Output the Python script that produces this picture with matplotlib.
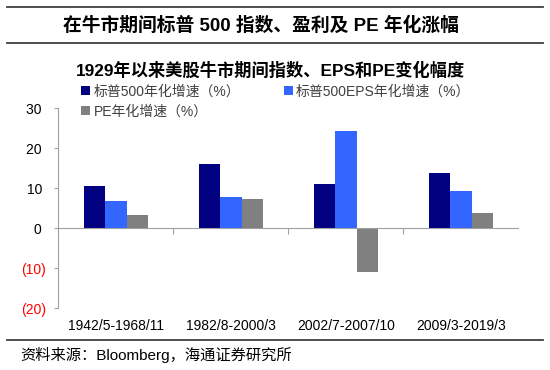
import numpy as np
import matplotlib
matplotlib.use('Agg')
import matplotlib.pyplot as plt
from matplotlib.lines import Line2D

plt.rcParams['font.family'] = ['Liberation Sans', 'Noto Sans CJK SC', 'DejaVu Sans']

categories = ['1942/5-1968/11', '1982/8-2000/3', '2002/7-2007/10', '2009/3-2019/3']
sp500_growth = [10.5, 16.0, 11.0, 13.8]
eps_growth = [6.9, 7.7, 24.3, 9.2]
pe_growth = [3.3, 7.4, -11.0, 3.8]
series_names = ['标普500年化增速（%）', '标普500EPS年化增速（%）', 'PE年化增速（%）']
colors = ['#000080', '#3366FF', '#808080']

yticks = [-20, -10, 0, 10, 20, 30]
ytick_labels = ['(20)', '(10)', '0 ', '10 ', '20 ', '30 ']

fig = plt.figure(figsize=(5.5, 3.7), dpi=100)
ax = fig.add_axes([0.106, 0.1668, 0.8364, 0.5405])

x = np.arange(len(categories))
w = 0.187
bars = []
for i, (vals, c) in enumerate(zip([sp500_growth, eps_growth, pe_growth], colors)):
    b = ax.bar(x + (i - 1) * w, vals, width=w, color=c, label=series_names[i], zorder=2)
    bars.append(b)

ax.set_xlim(-0.5, len(categories) - 0.5)
ax.set_ylim(-20, 30)

# axis styling
axis_gray = '#A0A0A0'
for s in ['top', 'right']:
    ax.spines[s].set_visible(False)
ax.spines['left'].set_color(axis_gray)
ax.spines['bottom'].set_color(axis_gray)
ax.spines['bottom'].set_position(('data', 0))

ax.set_yticks(yticks)
ax.set_yticklabels(ytick_labels, fontsize=10)
for lbl, v in zip(ax.get_yticklabels(), yticks):
    lbl.set_color('red' if v < 0 else 'black')
ax.tick_params(axis='y', length=3, color=axis_gray, pad=6)

ax.set_xticks(x[:-1] + 0.5)
ax.set_xticklabels([])
ax.tick_params(axis='x', length=4, color=axis_gray, direction='out')

for xi, cat in zip(x, categories):
    ax.text(xi, -0.088, cat, transform=ax.get_xaxis_transform(),
            ha='center', va='center', fontsize=10)

# legend: col1 -> 标普500, PE ; col2 -> EPS
leg = fig.legend([bars[0], bars[2], bars[1]],
                 [series_names[0], series_names[2], series_names[1]],
                 ncol=2, loc='upper left', bbox_to_anchor=(0.148, 0.772),
                 frameon=False, fontsize=10, handlelength=0.65, handleheight=0.65,
                 handletextpad=0.25, labelspacing=0.45, columnspacing=3.1,
                 borderpad=0, borderaxespad=0)
for t in leg.get_texts():
    t.set_color('#404040')

# titles
fig.text(0.4745, 0.930, '在牛市期间标普 500 指数、盈利及 PE 年化涨幅',
         ha='center', va='center', fontsize=13.5, fontweight='bold')
fig.text(0.491, 0.811, '1929年以来美股牛市期间指数、EPS和PE变化幅度',
         ha='center', va='center', fontsize=12.4, fontweight='bold')

# rules
line_col = '#404040'
for yy in [0.980, 0.8846, 0.0811]:
    fig.add_artist(Line2D([0.0127, 0.987], [yy, yy], color=line_col, lw=1.3,
                          transform=fig.transFigure))

fig.text(0.0376, 0.0405, '资料来源：Bloomberg，海通证券研究所',
         ha='left', va='center', fontsize=11)

fig.savefig('out.png', dpi=100)
